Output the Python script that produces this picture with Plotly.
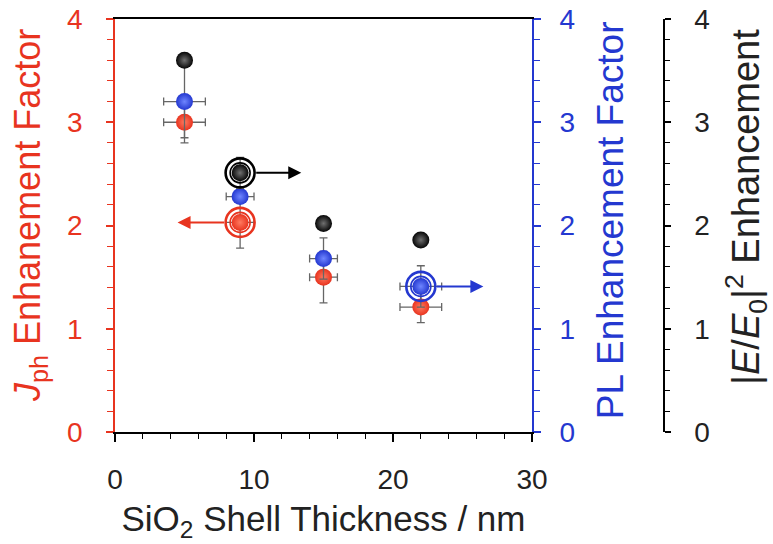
import plotly.graph_objects as go

# ---- data ----
thickness = [5, 9, 15, 22]
jph = [3.0, 2.03, 1.50, 1.21]
jph_err_y = [0.2, 0.25, 0.25, 0.15]
jph_err_x = [1.5, 1.0, 1.0, 1.5]
pl = [3.2, 2.28, 1.68, 1.41]
pl_err_y = [0.35, 0.0, 0.2, 0.2]
pl_err_x = [1.5, 1.0, 1.0, 1.5]
field = [3.6, 2.51, 2.02, 1.86]
field_err_y = [0.0, 0.15, 0.0, 0.0]

# highlighted points: (x, y, arrow-tip x)
hl_red = (9, 2.03, 4.5)
hl_black = (9, 2.51, 13.4)
hl_blue = (22, 1.41, 26.5)

x_ticks = [0, 10, 20, 30]
y_ticks = [0, 1, 2, 3, 4]

RED = "#e8341f"
BLUE = "#2438d0"
BLACK = "#000000"
GRAY = "#666666"
FONT = "Liberation Sans, Arial, sans-serif"

fig = go.Figure()

def sphere(x, y, color, light, yaxis, ex=None, ey=None, name=""):
    kw = {}
    if ey is not None:
        kw["error_y"] = dict(type="data", array=ey, color=GRAY, thickness=1.3, width=4)
    if ex is not None:
        kw["error_x"] = dict(type="data", array=ex, color=GRAY, thickness=1.3, width=4)
    fig.add_trace(go.Scatter(
        x=x, y=y, mode="markers", yaxis=yaxis, name=name, showlegend=False,
        marker=dict(size=17, color=color, line=dict(width=0),
                    gradient=dict(type="radial", color=light)),
        **kw))

sphere(thickness, pl, BLUE, "#6f86ff", "y2", ex=pl_err_x, ey=pl_err_y, name="PL")
sphere(thickness, jph, RED, "#ff7a60", "y", ex=jph_err_x, ey=jph_err_y, name="Jph")
sphere(thickness, field, "#050505", "#707070", "y3", ey=field_err_y, name="E")

def target(pt, color, yaxis):
    for s, w in ((29, 2.6), (20, 1.6)):
        fig.add_trace(go.Scatter(
            x=[pt[0]], y=[pt[1]], mode="markers", yaxis=yaxis, showlegend=False,
            marker=dict(symbol="circle-open", size=s, color=color, line=dict(width=w, color=color))))

target(hl_red, RED, "y")
target(hl_black, BLACK, "y3")
target(hl_blue, BLUE, "y2")

ring_r = 1.05  # ring radius in x units (approx)
for pt, color in ((hl_red, RED), (hl_black, BLACK), (hl_blue, BLUE)):
    direction = 1 if pt[2] > pt[0] else -1
    fig.add_annotation(x=pt[2], y=pt[1], ax=pt[0] + direction * ring_r, ay=pt[1],
                       xref="x", yref="y", axref="x", ayref="y", text="",
                       showarrow=True, arrowhead=2, arrowsize=1.3, arrowwidth=2,
                       arrowcolor=color)

# vertical axis titles (placed as rotated text)
y_titles = [
    ("<i>J</i><sub>ph</sub> Enhanement Factor", RED, -0.1375, 0.523, 36),
    ("PL Enhancement Factor", BLUE, 0.801, 0.513, 37),
    ("|<i>E</i>/<i>E</i><sub>0</sub>|<sup>2</sup> Enhancement", "#222", 1.021, 0.545, 38),
]
for text, color, xp, yp, size in y_titles:
    fig.add_annotation(text=text, xref="paper", yref="paper", x=xp, y=yp,
                       xanchor="center", yanchor="middle", textangle=-90,
                       showarrow=False, font=dict(size=size, color=color, family=FONT))

dom_end = 0.6748
black_pos = 0.8883

fig.update_layout(
    width=773, height=544,
    margin=dict(l=115, r=40, t=19, b=112, autoexpand=False),
    plot_bgcolor="white", paper_bgcolor="white",
    font=dict(family=FONT, size=28, color=BLACK),
    xaxis=dict(domain=[0, dom_end], range=[0, 30], tickvals=x_ticks, automargin=False,
               showline=True, linecolor=BLACK, linewidth=1.5, mirror=True,
               ticks="outside", ticklen=8, tickwidth=1.5, tickcolor=BLACK,
               minor=dict(dtick=2, ticks="outside", ticklen=5, tickwidth=1.3, tickcolor=BLACK),
               showgrid=False, zeroline=False, ticklabelstandoff=14,
               tickfont=dict(size=28, color="#222"),
               title=dict(text="SiO<sub>2</sub> Shell Thickness / nm",
                          font=dict(size=35, color="#222"), standoff=12)),
    yaxis=dict(range=[0, 4], tickvals=y_ticks, side="left", automargin=False,
               showline=True, linecolor=RED, linewidth=1.5,
               ticks="outside", ticklen=7, tickwidth=1.5, tickcolor=RED,
               minor=dict(dtick=0.2, ticks="outside", ticklen=6, tickwidth=1.3, tickcolor=RED),
               showgrid=False, zeroline=False, ticklabelstandoff=18,
               tickfont=dict(size=28, color=RED)),
    yaxis2=dict(range=[0, 4], tickvals=y_ticks, side="right", overlaying="y", anchor="x",
                automargin=False,
                showline=True, linecolor=BLUE, linewidth=1.5,
                ticks="outside", ticklen=7, tickwidth=1.5, tickcolor=BLUE,
                minor=dict(dtick=0.2, ticks="outside", ticklen=6, tickwidth=1.3, tickcolor=BLUE),
                showgrid=False, zeroline=False, ticklabelstandoff=13,
                tickfont=dict(size=28, color=BLUE)),
    yaxis3=dict(range=[0, 4], tickvals=y_ticks, side="right", overlaying="y",
                anchor="free", position=black_pos, automargin=False,
                showline=True, linecolor=BLACK, linewidth=1.5,
                ticks="outside", ticklen=6, tickwidth=1.5, tickcolor=BLACK,
                minor=dict(dtick=0.2, ticks="outside", ticklen=5, tickwidth=1.3, tickcolor=BLACK),
                showgrid=False, zeroline=False, ticklabelstandoff=18,
                tickfont=dict(size=28, color="#222")),
)

fig.write_html("out.html")
